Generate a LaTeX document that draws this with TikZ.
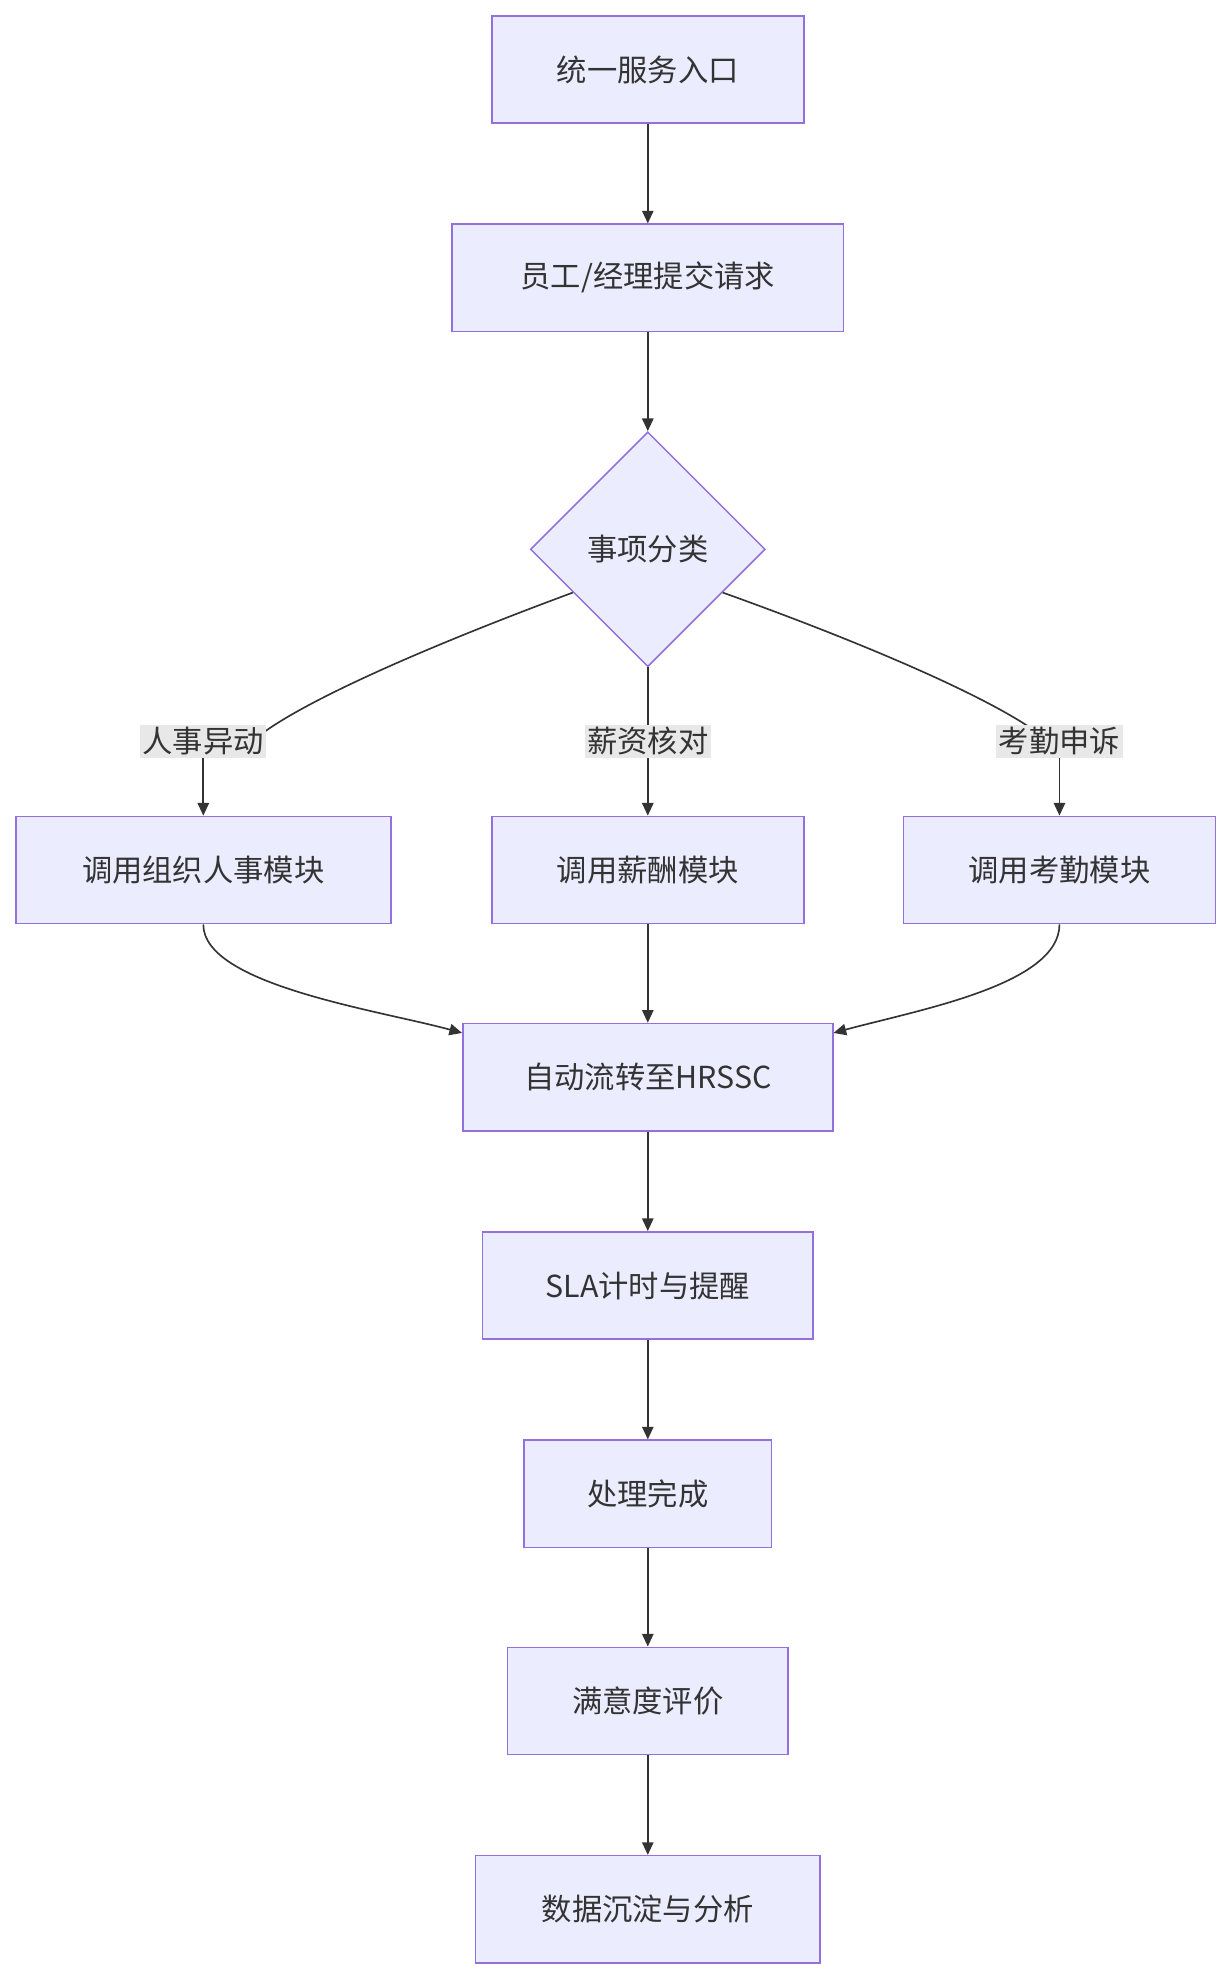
\documentclass[tikz,border=0pt]{standalone}
\usepackage{fontspec}
\setmainfont{Noto Sans CJK SC}
\usetikzlibrary{arrows.meta,shapes.geometric}
\definecolor{boxfill}{HTML}{ECECFF}
\definecolor{boxline}{HTML}{9370DB}
\definecolor{ink}{HTML}{333333}
\definecolor{labbg}{HTML}{E8E8E8}
\tikzset{
  box/.style={draw=boxline, fill=boxfill, line width=1.2pt, text=ink, minimum height=85pt, font=\fontsize{24}{28}\selectfont},
  lab/.style={fill=labbg, text=ink, inner sep=2pt, font=\fontsize{24}{28}\selectfont},
  link/.style={draw=ink, line width=1.3pt},
  arr/.style={link, -{Triangle[length=10pt,width=9pt]}}
}
\begin{document}
\begin{tikzpicture}[x=1pt,y=-1pt]
  \useasboundingbox (0,0) rectangle (975,1568);
  % main column
  \node[box, minimum width=247pt] (entry) at (513,55) {统一服务入口};
  \node[box, minimum width=310pt] (submit) at (513,220) {员工/经理提交请求};
  \node[draw=boxline, fill=boxfill, line width=1.2pt, text=ink, diamond, minimum width=186pt, minimum height=186pt, inner sep=0pt, font=\fontsize{24}{28}\selectfont] (sort) at (513,435) {事项分类};
  \node[box, minimum width=297pt] (org) at (161,689) {调用组织人事模块};
  \node[box, minimum width=247pt] (pay) at (513,689) {调用薪酬模块};
  \node[box, minimum width=247pt] (att) at (839,689) {调用考勤模块};
  \node[box, minimum width=293pt] (flow) at (513,853) {自动流转至HRSSC};
  \node[box, minimum width=262pt] (sla) at (513,1018) {SLA计时与提醒};
  \node[box, minimum width=196pt] (done) at (513,1183) {处理完成};
  \node[box, minimum width=222pt] (rate) at (513,1347) {满意度评价};
  \node[box, minimum width=273pt] (data) at (513,1512) {数据沉淀与分析};
  % branches
  \draw[link] (sort.210) .. controls (330,515) and (230,560) .. (200,587);
  \draw[link] (sort.south) -- (513,587);
  \draw[link] (sort.330) .. controls (700,515) and (800,560) .. (830,587);
  \node[lab] (lorg) at (161,587) {人事异动};
  \node[lab] (lpay) at (513,587) {薪资核对};
  \node[lab] (latt) at (839,587) {考勤申诉};
  \draw[arr] (lorg.south) .. controls (161,615) .. (org.north);
  \draw[arr] (lpay) -- (pay);
  \draw[arr] (latt.south) .. controls (839,615) .. (att.north);
  % merge
  \draw[arr] (org.south) .. controls (161,780) and (300,800) .. (flow.north west |- 0,818);
  \draw[arr] (pay) -- (flow);
  \draw[arr] (att.south) .. controls (839,780) and (726,800) .. (flow.north east |- 0,818);
  \draw[arr] (entry) -- (submit);
  \draw[arr] (submit) -- (sort);
  \draw[arr] (flow) -- (sla);
  \draw[arr] (sla) -- (done);
  \draw[arr] (done) -- (rate);
  \draw[arr] (rate) -- (data);
\end{tikzpicture}
\end{document}
